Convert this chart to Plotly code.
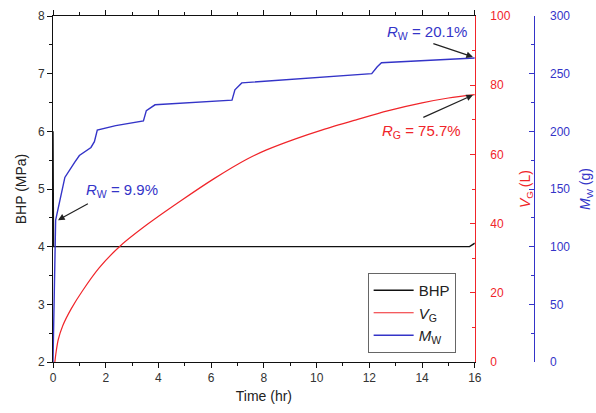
import plotly.graph_objects as go

# ---- data ----
bhp_t = [0.0, 0.02, 2, 4, 6, 8, 10, 12, 14, 15.8, 16.0]
bhp_p = [6.0, 4.0, 4.0, 4.0, 4.0, 4.0, 4.0, 4.0, 4.0, 4.0, 4.06]

vg_t = [0.07, 0.12, 0.2, 0.37, 0.7, 1.12, 1.75, 2.56, 3.62, 4.85, 6.11, 7.35, 8.1,
        9.2, 10.22, 11.5, 12.69, 14.0, 15.0, 16.0]
vg_v = [0.0, 3.0, 6.5, 10.5, 15.5, 20.6, 27.2, 33.6, 40.0, 46.6, 53.0, 58.6, 61.3,
        64.5, 67.1, 70.0, 72.6, 74.9, 76.3, 77.3]

mw_t = [0.0, 0.1, 0.26, 0.45, 0.82, 1.0, 1.44, 1.57, 1.68, 2.38, 3.43, 3.54, 3.87,
        6.79, 6.9, 7.16, 12.09, 12.3, 12.46, 15.93, 16.0]
mw_m = [0.0, 123, 140, 160, 173, 179, 186, 191, 201, 205, 209, 218, 223,
        227, 236, 242, 250, 256, 259.5, 263.5, 263.6]

x_ticks = [0, 2, 4, 6, 8, 10, 12, 14, 16]

BLACK = "#111111"
RED = "#f0252a"
BLUE = "#3434c8"
FONT = "Liberation Sans, Arial, sans-serif"

fig = go.Figure()
fig.add_trace(go.Scatter(x=bhp_t, y=bhp_p, mode="lines", name="BHP",
                         line=dict(color=BLACK, width=1.4), yaxis="y"))
fig.add_trace(go.Scatter(x=vg_t, y=vg_v, mode="lines", name="<i>V</i><sub>G</sub>",
                         line=dict(color=RED, width=1.2, shape="spline", smoothing=0.8),
                         yaxis="y2"))
fig.add_trace(go.Scatter(x=mw_t, y=mw_m, mode="lines", name="<i>M</i><sub>W</sub>",
                         line=dict(color=BLUE, width=1.4), yaxis="y3"))

L, R, T, B = 53, 6, 16, 51
W, H = 596, 413
pw = W - L - R
x_end = (482 - L) / pw
pos3 = (542.7 - L) / pw

fig.update_layout(
    width=W, height=H,
    margin=dict(l=L, r=R, t=T, b=B),
    paper_bgcolor="white", plot_bgcolor="white",
    font=dict(family=FONT, size=12, color="#333333"),
    showlegend=True,
    legend=dict(x=(373 - L) / pw, y=(362 - 273) / (H - T - B), xanchor="left", yanchor="top",
                bordercolor="#666666", borderwidth=1, bgcolor="white",
                font=dict(family=FONT, size=15, color="#222222"),
                tracegroupgap=0, itemwidth=40),
    xaxis=dict(domain=[0, x_end], range=[0, 16], tickvals=x_ticks,
               ticks="outside", ticklen=5, tickwidth=1, tickcolor=BLACK,
               minor=dict(dtick=1, ticks="outside", ticklen=3, tickcolor=BLACK),
               showline=True, linecolor=BLACK, linewidth=1, mirror="ticks",
               showgrid=False, zeroline=False,
               title=dict(text="Time (hr)", font=dict(size=14, color="#222222"), standoff=6),
               tickfont=dict(size=12, color="#333333")),
    yaxis=dict(range=[2, 8], dtick=1, ticks="outside", ticklen=5, tickcolor=BLACK,
               minor=dict(dtick=0.5, ticks="outside", ticklen=3, tickcolor=BLACK),
               showline=True, linecolor=BLACK, linewidth=1,
               showgrid=False, zeroline=False,
               title=dict(text="BHP (MPa)", font=dict(size=14, color="#222222"), standoff=8),
               tickfont=dict(size=12, color="#333333")),
    yaxis2=dict(overlaying="y", side="right", anchor="x", range=[0, 100], dtick=20,
                ticks="inside", ticklen=5, tickcolor=RED,
                minor=dict(dtick=10, ticks="inside", ticklen=3, tickcolor=RED),
                showline=True, linecolor=RED, linewidth=1.2,
                showgrid=False, zeroline=False, ticklabelstandoff=12,
                tickfont=dict(size=12, color=RED),
                title=dict(text="<i>V</i><sub>G</sub> (L)", font=dict(size=14, color=RED), standoff=10)),
    yaxis3=dict(overlaying="y", side="right", anchor="free", position=pos3,
                range=[0, 300], dtick=50,
                ticks="inside", ticklen=5, tickcolor=BLUE,
                minor=dict(dtick=25, ticks="inside", ticklen=3, tickcolor=BLUE),
                showline=True, linecolor=BLUE, linewidth=1.2,
                showgrid=False, zeroline=False, ticklabelstandoff=12,
                tickfont=dict(size=12, color=BLUE),
                title=dict(text="<i>M</i><sub>W</sub> (g)", font=dict(size=14, color=BLUE), standoff=10)),
)

# annotations: text labels and arrows
ann_font = dict(family=FONT, size=15)
fig.add_annotation(x=2.6, y=4.98, xref="x", yref="y", text="<i>R</i><sub>W</sub> = 9.9%",
                   showarrow=False, font=dict(color=BLUE, **ann_font))
fig.add_annotation(x=14.18, y=7.72, xref="x", yref="y", text="<i>R</i><sub>W</sub> = 20.1%",
                   showarrow=False, font=dict(color=BLUE, **ann_font))
fig.add_annotation(x=13.96, y=5.99, xref="x", yref="y", text="<i>R</i><sub>G</sub> = 75.7%",
                   showarrow=False, font=dict(color=RED, **ann_font))

arrows = [((0.19, 4.46), (1.38, 4.76)),
          ((15.93, 7.29), (14.37, 7.53)),
          ((15.93, 6.63), (13.99, 6.23))]
for (hx, hy), (tx, ty) in arrows:
    fig.add_annotation(x=hx, y=hy, ax=tx, ay=ty, xref="x", yref="y", axref="x", ayref="y",
                       text="", showarrow=True, arrowhead=2, arrowsize=1.1, arrowwidth=1.2,
                       arrowcolor="#222222")

fig.write_html("out.html")
